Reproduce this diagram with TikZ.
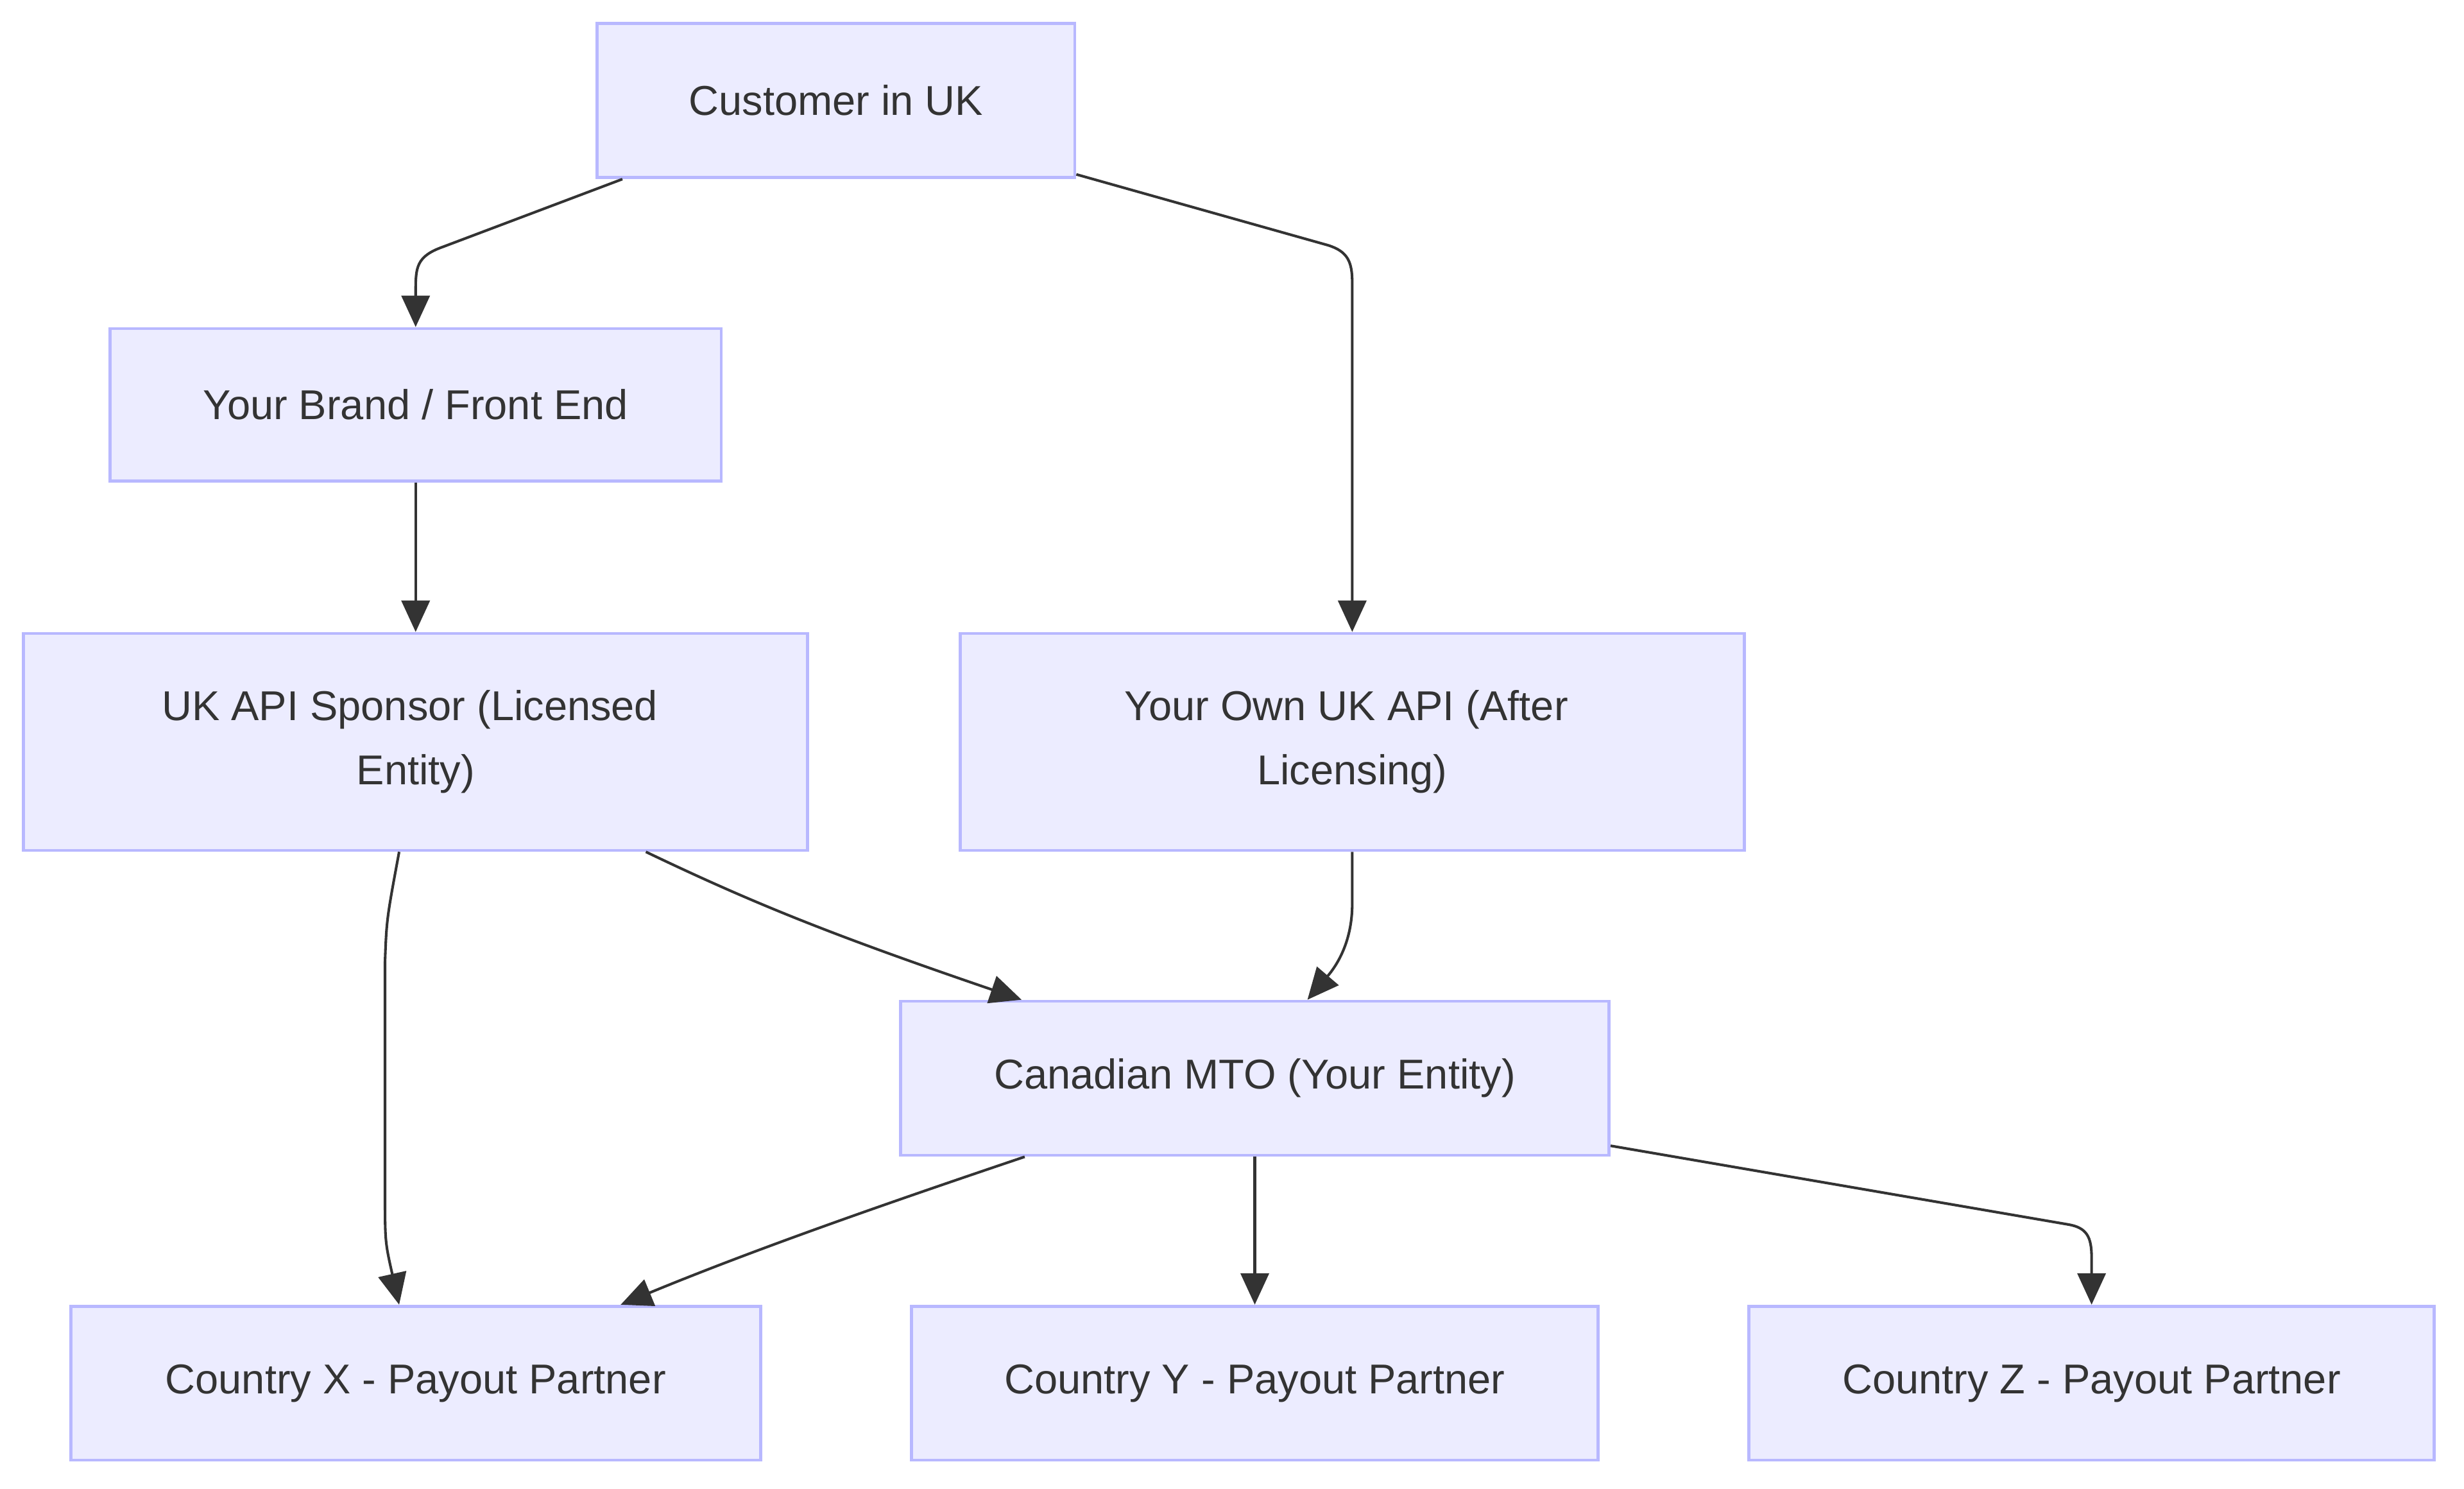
\documentclass[tikz,border=0pt]{standalone}
\usepackage{fontspec}
\setmainfont{Liberation Sans}
\usetikzlibrary{arrows.meta,calc}

\definecolor{boxfill}{HTML}{ECECFF}
\definecolor{boxline}{HTML}{B8B8FF}
\definecolor{inkgray}{HTML}{333333}

\tikzset{
  box/.style={draw=boxline,fill=boxfill,line width=1.1pt,text=inkgray,
    align=center,inner sep=0pt,font=\fontsize{15.1}{23.2}\selectfont},
  flow/.style={draw=inkgray,line width=0.95pt,
    -{Triangle[length=0.4cm,width=0.36cm]}}
}

\begin{document}
\begin{tikzpicture}[x=0.02cm,y=-0.02cm]
      \useasboundingbox (0,0) rectangle (1568,947);

      % top and left branch
      \node[box,minimum width=6.08cm,minimum height=1.96cm] (cust) at (532,64) {Customer in UK};
      \node[box,minimum width=7.78cm,minimum height=1.94cm] (brand) at (264.5,257.5) {Your Brand / Front End};
      \node[box,minimum width=9.98cm,minimum height=2.76cm] (spon) at (264.5,472) {\raisebox{-3pt}{UK API Sponsor (Licensed\ }\\\raisebox{-3pt}{Entity)}};
      \node[box,minimum width=9.98cm,minimum height=2.76cm] (own) at (860.5,472) {\raisebox{-3pt}{Your Own UK API (After\ }\\\raisebox{-3pt}{Licensing)}};
      \node[box,minimum width=9.02cm,minimum height=1.96cm] (mto) at (798.5,686) {Canadian MTO (Your Entity)};

      % payout partners
      \node[box,minimum width=8.78cm,minimum height=1.96cm] (cx) at (264.5,880) {Country X - Payout Partner};
      \node[box,minimum width=8.74cm,minimum height=1.96cm] (cy) at (798.5,880) {Country Y - Payout Partner};
      \node[box,minimum width=8.72cm,minimum height=1.96cm] (cz) at (1331,880) {Country Z - Payout Partner};

      \draw[flow] ($(cust.south west)+(17,0)$) -- (282,157)
        .. controls (265,163) and (264.5,170) .. (264.5,185) -- (brand.north);
      \draw[flow] ($(cust.south east)+(0,-3)$) -- (845,156)
        .. controls (858,160) and (860.5,167) .. (860.5,180) -- (own.north);
      \draw[flow] (brand) -- (spon);
      \draw[flow] ($(spon.south)+(146.5,0)$)
        .. controls (480,575) and (530,595) .. ($(mto.north west)+(78,0)$);
      \draw[flow] ($(spon.south)+(-10.5,0)$)
        .. controls (246,585) .. (245,612) -- (245,758)
        .. controls (245,790) .. ($(cx.north)+(-10.5,0)$);
      \draw[flow] (own.south) -- (860.5,575)
        .. controls (860.5,600) and (850,615) .. ($(mto.north)+(33.5,0)$);
      \draw[flow] ($(mto.south west)+(80,0)$)
        .. controls (560,767) and (480,795) .. ($(cx.north)+(130.5,0)$);
      \draw[flow] (mto) -- (cy);
      \draw[flow] ($(mto.south east)+(0,-7)$) -- (1316,779)
        .. controls (1328,781) and (1331,787) .. (1331,800) -- (cz.north);
\end{tikzpicture}
\end{document}
